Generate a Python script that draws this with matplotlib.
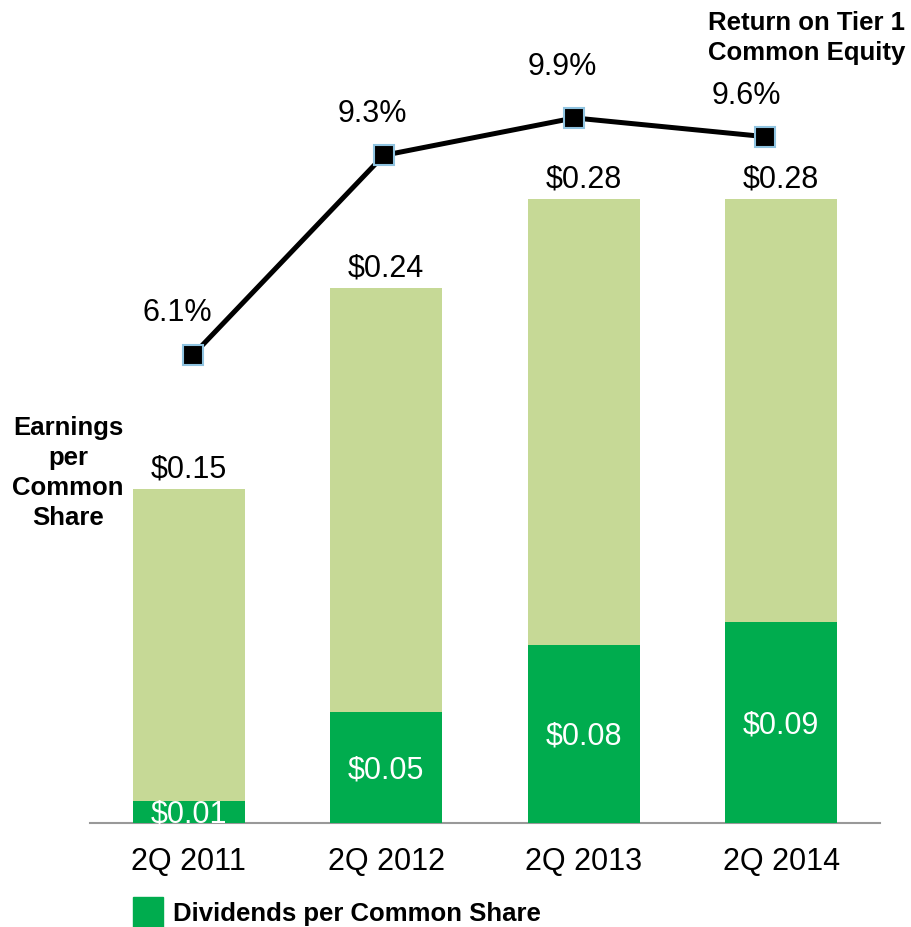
import matplotlib
matplotlib.use("Agg")
import matplotlib.pyplot as plt
from matplotlib.patches import Patch

plt.rcParams['font.family'] = ['Liberation Sans', 'DejaVu Sans']

categories = ["2Q 2011", "2Q 2012", "2Q 2013", "2Q 2014"]
earnings = [0.15, 0.24, 0.28, 0.28]
dividends = [0.01, 0.05, 0.08, 0.09]
roe = [6.1, 9.3, 9.9, 9.6]

earn_labels = ["$0.15", "$0.24", "$0.28", "$0.28"]
div_labels = ["$0.01", "$0.05", "$0.08", "$0.09"]
roe_labels = ["6.1%", "9.3%", "9.9%", "9.6%"]

LIGHT = "#C6D996"
DARK = "#00AC4E"

W, H = 912, 927
fig = plt.figure(figsize=(W / 100, H / 100), dpi=100)

# axes spanning px x 90..880, y 0..823 (from top)
left, right, top, bottom = 90, 880, 0, 823
rect = [left / W, (H - bottom) / H, (right - left) / W, (bottom - top) / H]
ax = fig.add_axes(rect)
x = list(range(len(categories)))
ax.bar(x, earnings, width=0.567, color=LIGHT, zorder=2)
ax.bar(x, dividends, width=0.567, color=DARK, zorder=3)
ax.set_xlim(-0.5, 3.5)
ax.set_ylim(0, 823 / 2228)
for s in ["top", "right", "left"]:
    ax.spines[s].set_visible(False)
ax.spines["bottom"].set_color("#999999")
ax.spines["bottom"].set_linewidth(1.5)
ax.set_yticks([])
ax.set_xticks(x)
ax.set_xticklabels(categories, fontsize=22)
ax.tick_params(axis="x", length=0, pad=17)

for xi, e, lab in zip(x, earnings, earn_labels):
    ax.annotate(lab, (xi, e), xytext=(0, 14), textcoords="offset points",
                ha="center", va="center", fontsize=22, color="black")
for xi, d, lab in zip(x, dividends, div_labels):
    ax.annotate(lab, (xi, d / 2), xytext=(0, -2), textcoords="offset points",
                ha="center", va="center", fontsize=22, color="white", zorder=4)

# line overlay axes
ax2 = fig.add_axes(rect)
ax2.patch.set_alpha(0)
ax2.set_xlim(-0.540, 3.603)
ax2.set_ylim(-1.4, 11.79)
ax2.axis("off")
ax2.plot(x, roe, color="black", lw=3.6, marker="s", markersize=14,
         markerfacecolor="black", markeredgecolor="#8FC3E0",
         markeredgewidth=1.5, zorder=5)
roe_off = [(-16, 42), (-11, 41), (-12, 51), (-19, 41)]
for xi, v, lab, (dx, dy) in zip(x, roe, roe_labels, roe_off):
    ax2.annotate(lab, (xi, v), xytext=(dx * 0.72, dy * 0.72),
                 textcoords="offset points", ha="center", va="center",
                 fontsize=22, color="black")

fig.text(68 / W, 1 - 473 / H, "Earnings\nper\nCommon\nShare", ha="center",
         va="center", fontsize=18.5, fontweight="bold", linespacing=1.33)
fig.text(807 / W, 1 - 38 / H, "Return on Tier 1\nCommon Equity", ha="center",
         va="center", fontsize=18.5, fontweight="bold", linespacing=1.33)

fig.legend(handles=[Patch(color=DARK, label="Dividends per Common Share")],
           loc="upper left", bbox_to_anchor=(133 / W, 1 - 897 / H),
           frameon=False, handlelength=1.16, handleheight=1.5,
           handletextpad=0.4, borderpad=0, borderaxespad=0,
           prop={"weight": "bold", "size": 18.5})

fig.savefig("out.png", dpi=100)
